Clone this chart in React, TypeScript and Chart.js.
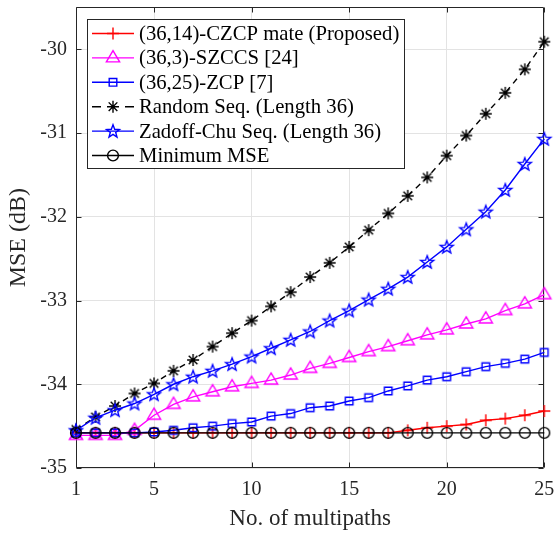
import React, { useEffect, useRef } from 'react';
import { Chart, registerables } from 'chart.js';

Chart.register(...registerables);

// ---------- data ----------
const multipaths = [1, 2, 3, 4, 5, 6, 7, 8, 9, 10, 11, 12, 13, 14, 15, 16, 17, 18, 19, 20, 21, 22, 23, 24, 25];
const xTicks = [1, 5, 10, 15, 20, 25];
const yTicks = [-35, -34, -33, -32, -31, -30];

const czcpMate = [-34.58, -34.58, -34.58, -34.58, -34.58, -34.58, -34.58, -34.58, -34.58, -34.58, -34.58, -34.58, -34.58, -34.58, -34.58, -34.58, -34.58, -34.55, -34.52, -34.50, -34.48, -34.43, -34.41, -34.37, -34.32];
const szccs = [-34.61, -34.61, -34.61, -34.55, -34.37, -34.24, -34.15, -34.09, -34.03, -33.99, -33.95, -33.89, -33.81, -33.75, -33.68, -33.61, -33.55, -33.48, -33.41, -33.35, -33.28, -33.22, -33.12, -33.04, -32.93];
const zcp = [-34.58, -34.58, -34.58, -34.58, -34.57, -34.55, -34.52, -34.50, -34.47, -34.45, -34.38, -34.35, -34.28, -34.26, -34.20, -34.16, -34.08, -34.02, -33.95, -33.91, -33.85, -33.79, -33.75, -33.70, -33.62];
const randomSeq = [-34.54, -34.39, -34.26, -34.11, -33.99, -33.84, -33.71, -33.55, -33.39, -33.24, -33.07, -32.90, -32.72, -32.55, -32.36, -32.16, -31.96, -31.75, -31.53, -31.27, -31.03, -30.77, -30.52, -30.24, -29.91];
const zadoffChu = [-34.55, -34.40, -34.31, -34.23, -34.12, -34.00, -33.91, -33.84, -33.76, -33.67, -33.57, -33.47, -33.37, -33.24, -33.12, -32.99, -32.86, -32.72, -32.54, -32.36, -32.15, -31.94, -31.68, -31.37, -31.07];
const minimumMSE = [-34.58, -34.58, -34.58, -34.58, -34.58, -34.58, -34.58, -34.58, -34.58, -34.58, -34.58, -34.58, -34.58, -34.58, -34.58, -34.58, -34.58, -34.58, -34.58, -34.58, -34.58, -34.58, -34.58, -34.58, -34.58];

const seriesLabels = [
  '(36,14)-CZCP mate (Proposed)',
  '(36,3)-SZCCS [24]',
  '(36,25)-ZCP [7]',
  'Random Seq. (Length 36)',
  'Zadoff-Chu Seq. (Length 36)',
  'Minimum MSE',
];
const seriesValues = [czcpMate, szccs, zcp, randomSeq, zadoffChu, minimumMSE];
const seriesColors = ['#ff0000', '#ff00ff', '#0000ff', '#000000', '#0000ff', '#000000'];
const seriesMarkers = ['cross', 'triangle', 'square', 'asterisk', 'pentagram', 'circle'];
const seriesDashed = [false, false, false, true, false, false];

const FONT = "'Liberation Serif', 'Times New Roman', serif";
const AXIS_COLOR = '#262626';
const LW = 1.4;

function drawMarker(ctx: CanvasRenderingContext2D, kind: string, x: number, y: number, color: string) {
  ctx.save();
  ctx.strokeStyle = color;
  ctx.lineWidth = LW;
  ctx.setLineDash([]);
  ctx.beginPath();
  if (kind === 'cross') {
    const r = 6;
    ctx.moveTo(x - r, y); ctx.lineTo(x + r, y);
    ctx.moveTo(x, y - r); ctx.lineTo(x, y + r);
  } else if (kind === 'triangle') {
    const r = 7.2;
    ctx.moveTo(x, y - r);
    ctx.lineTo(x + r * 0.92, y + r * 0.55);
    ctx.lineTo(x - r * 0.92, y + r * 0.55);
    ctx.closePath();
  } else if (kind === 'square') {
    const s = 3.8;
    ctx.rect(x - s, y - s, 2 * s, 2 * s);
  } else if (kind === 'asterisk') {
    const r = 6;
    const d = r * 0.72;
    ctx.moveTo(x - r, y); ctx.lineTo(x + r, y);
    ctx.moveTo(x, y - r); ctx.lineTo(x, y + r);
    ctx.moveTo(x - d, y - d); ctx.lineTo(x + d, y + d);
    ctx.moveTo(x - d, y + d); ctx.lineTo(x + d, y - d);
  } else if (kind === 'pentagram') {
    const R = 6.8;
    const rr = R * 0.42;
    for (let k = 0; k < 10; k++) {
      const ang = -Math.PI / 2 + (k * Math.PI) / 5;
      const rad = k % 2 === 0 ? R : rr;
      const px = x + rad * Math.cos(ang);
      const py = y + 0.5 + rad * Math.sin(ang);
      if (k === 0) ctx.moveTo(px, py); else ctx.lineTo(px, py);
    }
    ctx.closePath();
  } else if (kind === 'circle') {
    ctx.arc(x, y, 5.4, 0, Math.PI * 2);
  }
  ctx.stroke();
  ctx.restore();
}

function makeMarkerCanvas(kind: string, color: string) {
  const c = document.createElement('canvas');
  c.width = 20;
  c.height = 20;
  const ctx = c.getContext('2d')!;
  drawMarker(ctx, kind, 10, 10, color);
  return c;
}

const framePlugin = {
  id: 'matlabFrame',
  beforeDatasetsDraw(chart: any) {
    const { ctx, chartArea: a, scales } = chart;
    const xs = scales.x;
    const ys = scales.y;
    ctx.save();
    ctx.strokeStyle = AXIS_COLOR;
    ctx.lineWidth = 1;
    ctx.beginPath();
    const L = Math.round(a.left) + 0.5;
    const R = Math.round(a.right) - 0.5;
    const T = Math.round(a.top) + 0.5;
    const B = Math.round(a.bottom) - 0.5;
    ctx.moveTo(L, T); ctx.lineTo(R, T); ctx.lineTo(R, B); ctx.lineTo(L, B); ctx.closePath();
    const tl = 5;
    for (const v of xTicks) {
      const px = Math.round(xs.getPixelForValue(v)) + 0.5;
      ctx.moveTo(px, B); ctx.lineTo(px, B - tl);
      ctx.moveTo(px, T); ctx.lineTo(px, T + tl);
    }
    for (const v of yTicks) {
      const py = Math.round(ys.getPixelForValue(v)) + 0.5;
      ctx.moveTo(L, py); ctx.lineTo(L + tl, py);
      ctx.moveTo(R, py); ctx.lineTo(R - tl, py);
    }
    ctx.stroke();
    ctx.restore();
  },
  afterDatasetsDraw(chart: any) {
    const { ctx } = chart;
    ctx.save();
    const bx = 87.5, by = 19.5, bw = 317, bh = 149;
    ctx.fillStyle = '#ffffff';
    ctx.fillRect(bx, by, bw, bh);
    ctx.strokeStyle = AXIS_COLOR;
    ctx.lineWidth = 1;
    ctx.strokeRect(bx, by, bw, bh);
    ctx.font = `20.7px ${FONT}`;
    ctx.textBaseline = 'middle';
    ctx.textAlign = 'left';
    for (let i = 0; i < seriesLabels.length; i++) {
      const cy = 33.5 + i * 24.4;
      const color = seriesColors[i];
      ctx.save();
      ctx.strokeStyle = color;
      ctx.lineWidth = LW;
      ctx.beginPath();
      if (seriesDashed[i]) {
        ctx.moveTo(92, cy); ctx.lineTo(101, cy);
        ctx.moveTo(125, cy); ctx.lineTo(134, cy);
      } else {
        ctx.moveTo(92, cy); ctx.lineTo(134, cy);
      }
      ctx.stroke();
      ctx.restore();
      drawMarker(ctx, seriesMarkers[i], 113, cy, color);
      ctx.fillStyle = '#000000';
      ctx.fillText(seriesLabels[i], 139, cy + 1);
    }
    ctx.restore();
  },
};

export default function App() {
  const canvasRef = useRef<HTMLCanvasElement | null>(null);

  useEffect(() => {
    const canvas = canvasRef.current;
    if (!canvas) return;
    const datasets = seriesLabels.map((label, i) => ({
      label,
      data: multipaths.map((m, j) => ({ x: m, y: seriesValues[i][j] })),
      borderColor: seriesColors[i],
      backgroundColor: seriesColors[i],
      borderWidth: LW,
      borderDash: seriesDashed[i] ? [6, 5] : [],
      pointStyle: makeMarkerCanvas(seriesMarkers[i], seriesColors[i]),
      pointRadius: 6,
      tension: 0,
      clip: false as any,
      order: seriesLabels.length - 1 - i,
    }));

    const chart = new Chart(canvas, {
      type: 'line',
      data: { datasets },
      options: {
        animation: false,
        responsive: false,
        devicePixelRatio: 1,
        layout: { padding: { top: 7, right: 11.7, left: 0, bottom: 0 } },
        plugins: { legend: { display: false }, tooltip: { enabled: false } },
        scales: {
          x: {
            type: 'linear',
            min: 1,
            max: 25,
            afterBuildTicks: (s: any) => { s.ticks = xTicks.map((v) => ({ value: v })); },
            afterFit: (s: any) => { s.height = 66; s.paddingLeft = 0; s.paddingRight = 0; },
            ticks: {
              padding: 10,
              color: AXIS_COLOR,
              font: { family: FONT, size: 20 },
              maxRotation: 0,
              autoSkip: false,
              callback: (v: any) => String(v),
            },
            grid: { color: '#e3e3e3', lineWidth: 1, drawTicks: false },
            border: { display: false },
            title: {
              display: true,
              text: 'No. of multipaths',
              color: AXIS_COLOR,
              font: { family: FONT, size: 23 },
              padding: { top: 0, bottom: 1 },
            },
          },
          y: {
            type: 'linear',
            min: -35,
            max: -29.5,
            afterBuildTicks: (s: any) => { s.ticks = yTicks.map((v) => ({ value: v })); },
            afterFit: (s: any) => { s.width = 76; s.paddingTop = 0; s.paddingBottom = 0; },
            ticks: {
              padding: 9,
              color: AXIS_COLOR,
              font: { family: FONT, size: 20 },
              autoSkip: false,
              callback: (v: any) => String(v),
            },
            grid: { color: '#e3e3e3', lineWidth: 1, drawTicks: false },
            border: { display: false },
            title: {
              display: true,
              text: 'MSE (dB)',
              color: AXIS_COLOR,
              font: { family: FONT, size: 24 },
              padding: { top: 4, bottom: 0 },
            },
          },
        },
      },
      plugins: [framePlugin],
    } as any);

    return () => chart.destroy();
  }, []);

  return (
    <div style={{ position: 'fixed', left: 0, top: 0, width: 556, height: 534, background: '#ffffff' }}>
      <canvas ref={canvasRef} width={556} height={534} style={{ width: 556, height: 534, display: 'block' }} />
    </div>
  );
}
